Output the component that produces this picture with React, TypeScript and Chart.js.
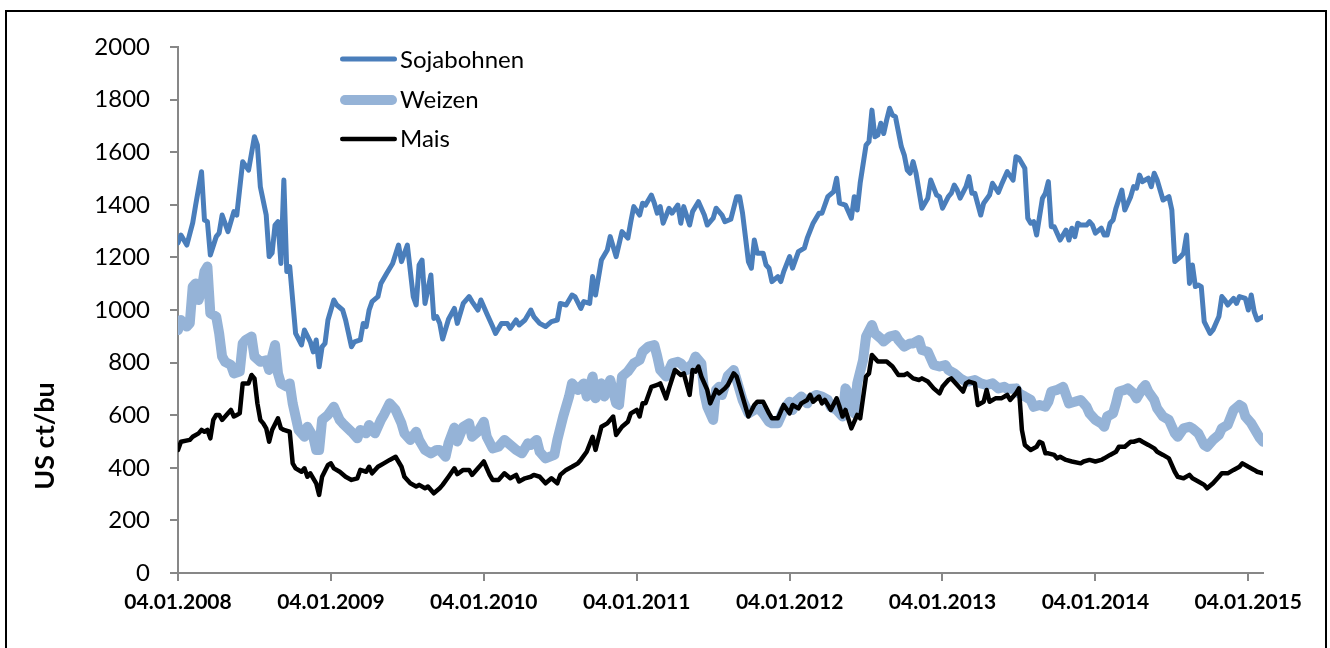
import React, { useEffect, useRef } from 'react';
import { Chart, registerables } from 'chart.js';

Chart.register(...registerables);

// x values are week numbers counted from 04.01.2008
const xTickWeeks = [0, 52, 104, 156, 208, 260, 312, 364];
const xTickLabels = ['04.01.2008', '04.01.2009', '04.01.2010', '04.01.2011', '04.01.2012', '04.01.2013', '04.01.2014', '04.01.2015'];
const yMin = 0;
const yMax = 2000;
const yStep = 200;
const yTitle = 'US ct/bu';
const seriesNames = ['Sojabohnen', 'Weizen', 'Mais'];

const sojabohnen: [number, number][] = [
  [0, 1255], [1, 1285], [3, 1247], [5, 1331], [6, 1399], [8, 1526], [9, 1342], [10, 1336], [11, 1209], [13, 1279],
  [14, 1293], [15, 1361], [17, 1298], [19, 1374], [20, 1361], [22, 1564], [24, 1532], [26, 1659], [27, 1627], [28, 1469],
  [30, 1361], [31, 1203], [32, 1217], [33, 1323], [34, 1336], [35, 1177], [36, 1494], [37, 1146], [38, 1165], [40, 911],
  [42, 867], [43, 924], [45, 879], [46, 841], [47, 886], [48, 784], [49, 860], [50, 873], [51, 962], [53, 1038],
  [54, 1019], [56, 1000], [57, 962], [59, 860], [60, 879], [62, 886], [63, 949], [64, 937], [65, 1000], [66, 1032],
  [68, 1051], [69, 1101], [71, 1140], [73, 1177], [75, 1247], [76, 1184], [78, 1247], [80, 1051], [81, 1019], [82, 1171],
  [83, 1190], [84, 1025], [86, 1133], [87, 968], [88, 975], [89, 950], [90, 890], [92, 965], [94, 1006], [95, 949],
  [97, 1025], [99, 1051], [100, 1032], [102, 1000], [103, 1038], [105, 987], [107, 937], [108, 911], [110, 949], [112, 949],
  [113, 930], [115, 962], [116, 943], [118, 962], [120, 1000], [121, 975], [123, 949], [125, 937], [127, 956], [129, 962],
  [130, 1025], [132, 1019], [134, 1057], [135, 1051], [137, 1006], [138, 1032], [140, 1025], [141, 1127], [142, 1057], [144, 1190],
  [146, 1228], [147, 1279], [149, 1203], [151, 1298], [153, 1273], [154, 1336], [155, 1393], [157, 1361], [158, 1406], [159, 1399],
  [161, 1437], [162, 1406], [163, 1368], [164, 1393], [165, 1330], [167, 1387], [168, 1368], [170, 1399], [171, 1330], [172, 1393],
  [174, 1323], [175, 1374], [177, 1412], [179, 1361], [180, 1323], [182, 1349], [183, 1387], [185, 1361], [186, 1336], [188, 1345],
  [190, 1431], [191, 1431], [192, 1368], [194, 1184], [195, 1159], [196, 1266], [197, 1216], [199, 1216], [200, 1171], [201, 1159],
  [202, 1108], [204, 1127], [205, 1108], [206, 1146], [208, 1203], [209, 1159], [211, 1222], [213, 1235], [214, 1273], [216, 1330],
  [218, 1368], [219, 1368], [221, 1431], [223, 1450], [224, 1501], [225, 1406], [227, 1399], [229, 1349], [230, 1431], [231, 1380],
  [232, 1482], [234, 1627], [235, 1640], [236, 1760], [237, 1659], [238, 1665], [239, 1710], [240, 1671], [241, 1722], [242, 1767],
  [243, 1741], [244, 1735], [246, 1621], [247, 1589], [248, 1532], [249, 1520], [250, 1564], [251, 1520], [253, 1387], [255, 1425],
  [256, 1494], [258, 1437], [259, 1431], [260, 1387], [262, 1431], [263, 1444], [264, 1475], [265, 1456], [266, 1425], [268, 1469],
  [269, 1507], [270, 1444], [271, 1444], [273, 1361], [274, 1406], [276, 1437], [277, 1482], [279, 1447], [280, 1475], [282, 1526],
  [284, 1494], [285, 1583], [286, 1577], [288, 1539], [289, 1349], [290, 1330], [291, 1336], [292, 1285], [294, 1425], [295, 1444],
  [296, 1488], [297, 1317], [298, 1317], [300, 1266], [301, 1285], [302, 1304], [303, 1266], [304, 1311], [305, 1279], [306, 1330],
  [307, 1323], [309, 1323], [310, 1336], [311, 1323], [312, 1292], [314, 1311], [315, 1285], [316, 1285], [317, 1330], [318, 1342],
  [319, 1387], [321, 1456], [322, 1380], [324, 1431], [325, 1469], [326, 1463], [327, 1513], [328, 1488], [330, 1501], [331, 1469],
  [332, 1520], [333, 1494], [334, 1456], [335, 1418], [337, 1431], [338, 1380], [339, 1184], [341, 1203], [342, 1216], [343, 1285],
  [344, 1101], [345, 1171], [346, 1089], [347, 1095], [348, 1089], [349, 956], [351, 911], [352, 924], [354, 975], [355, 1051],
  [356, 1038], [357, 1019], [359, 1044], [360, 1025], [361, 1051], [363, 1044], [364, 1000], [365, 1057], [366, 994], [367, 962],
  [369, 975],
];

const weizen: [number, number][] = [
  [0, 924], [1, 962], [3, 937], [4, 949], [5, 1089], [6, 1101], [7, 1038], [8, 1076], [9, 1146], [10, 1165],
  [11, 987], [13, 975], [14, 911], [15, 823], [16, 803], [18, 791], [19, 759], [21, 766], [22, 873], [23, 886],
  [25, 899], [26, 823], [28, 803], [30, 809], [31, 772], [32, 823], [33, 867], [34, 759], [35, 721], [37, 708],
  [38, 721], [39, 645], [41, 544], [43, 518], [44, 556], [46, 518], [47, 468], [48, 468], [49, 582], [51, 601],
  [53, 632], [55, 582], [56, 569], [59, 537], [61, 512], [62, 544], [64, 531], [65, 563], [67, 531], [69, 582],
  [70, 601], [72, 645], [74, 620], [76, 569], [77, 531], [79, 506], [81, 537], [82, 506], [84, 468], [86, 455],
  [88, 468], [89, 468], [91, 442], [92, 493], [94, 553], [95, 500], [97, 556], [99, 569], [100, 518], [102, 537],
  [104, 575], [105, 518], [107, 474], [109, 480], [111, 506], [113, 487], [115, 468], [117, 455], [119, 493], [120, 487],
  [122, 506], [123, 461], [125, 436], [128, 449], [129, 506], [131, 595], [133, 671], [134, 721], [136, 696], [138, 721],
  [139, 671], [141, 747], [142, 664], [144, 721], [145, 671], [147, 734], [149, 645], [150, 639], [151, 747], [153, 766],
  [155, 797], [157, 810], [158, 841], [160, 861], [162, 867], [163, 823], [164, 772], [166, 747], [168, 797], [170, 803],
  [171, 797], [173, 772], [175, 797], [176, 823], [178, 797], [179, 683], [180, 632], [182, 582], [183, 696], [184, 708],
  [185, 677], [187, 750], [189, 772], [190, 734], [192, 658], [194, 607], [196, 620], [197, 632], [199, 607], [201, 575],
  [202, 569], [204, 569], [206, 620], [208, 651], [209, 620], [210, 651], [212, 671], [214, 645], [215, 664], [217, 677],
  [219, 671], [221, 658], [222, 632], [224, 620], [226, 595], [227, 702], [228, 683], [230, 607], [231, 721], [233, 810],
  [234, 899], [236, 943], [237, 911], [239, 892], [240, 880], [242, 899], [244, 905], [245, 886], [247, 861], [249, 873],
  [250, 873], [252, 886], [253, 848], [255, 841], [257, 791], [259, 785], [261, 791], [262, 772], [264, 759], [266, 740],
  [268, 728], [269, 728], [271, 734], [273, 721], [275, 715], [277, 721], [279, 702], [281, 708], [282, 700], [285, 702],
  [286, 683], [288, 671], [290, 658], [291, 632], [293, 639], [295, 632], [296, 651], [297, 690], [299, 696], [301, 708],
  [302, 677], [303, 645], [305, 651], [307, 658], [309, 632], [310, 607], [312, 582], [314, 569], [315, 556], [316, 595],
  [318, 607], [319, 645], [320, 690], [322, 696], [323, 702], [325, 683], [326, 664], [328, 702], [329, 715], [330, 690],
  [332, 658], [333, 626], [335, 595], [337, 582], [339, 531], [340, 518], [342, 550], [344, 556], [345, 550], [347, 531],
  [349, 487], [350, 480], [352, 506], [354, 525], [355, 550], [357, 563], [359, 620], [361, 639], [362, 632], [363, 595],
  [365, 569], [367, 531], [368, 512], [369, 499],
];

const mais: [number, number][] = [
  [0, 468], [1, 499], [4, 506], [5, 518], [7, 531], [8, 544], [9, 537], [10, 544], [11, 512], [12, 582],
  [13, 601], [14, 601], [15, 582], [17, 607], [18, 620], [19, 595], [20, 601], [21, 607], [22, 721], [24, 721],
  [25, 753], [26, 740], [27, 645], [28, 582], [29, 569], [30, 550], [31, 499], [32, 544], [34, 588], [35, 550],
  [36, 544], [38, 537], [39, 417], [40, 398], [42, 385], [43, 398], [44, 366], [45, 379], [47, 341], [48, 297],
  [49, 366], [51, 411], [52, 417], [53, 398], [55, 385], [57, 366], [59, 354], [61, 360], [62, 392], [64, 385],
  [65, 404], [66, 379], [68, 404], [70, 417], [72, 430], [74, 442], [76, 404], [77, 366], [79, 341], [81, 329],
  [82, 335], [84, 322], [85, 329], [87, 303], [89, 322], [90, 335], [92, 366], [94, 398], [95, 376], [97, 392],
  [99, 392], [100, 373], [102, 398], [103, 411], [104, 424], [106, 373], [107, 354], [109, 354], [111, 379], [113, 360],
  [115, 373], [116, 348], [118, 360], [120, 366], [121, 373], [123, 366], [125, 341], [127, 360], [129, 341], [130, 373],
  [132, 392], [134, 404], [136, 417], [137, 430], [139, 461], [141, 518], [142, 468], [144, 556], [146, 569], [148, 595],
  [149, 525], [151, 556], [153, 575], [154, 607], [156, 620], [157, 595], [158, 645], [159, 645], [161, 708], [163, 715],
  [164, 721], [166, 664], [167, 702], [169, 772], [171, 753], [172, 759], [174, 677], [175, 772], [176, 766], [177, 785],
  [178, 747], [180, 696], [181, 645], [183, 696], [184, 683], [186, 702], [187, 715], [189, 759], [190, 747], [192, 671],
  [194, 595], [196, 639], [197, 651], [199, 651], [201, 607], [202, 588], [204, 588], [206, 639], [208, 607], [209, 639],
  [211, 626], [212, 645], [214, 658], [215, 677], [216, 651], [218, 671], [219, 645], [220, 658], [222, 620], [224, 664],
  [225, 632], [226, 595], [227, 620], [229, 550], [231, 601], [232, 588], [234, 747], [235, 759], [236, 829], [238, 804],
  [240, 804], [241, 804], [243, 785], [245, 753], [247, 753], [248, 759], [250, 740], [252, 734], [253, 740], [255, 728],
  [257, 702], [259, 683], [260, 708], [262, 734], [263, 740], [265, 715], [267, 690], [268, 721], [269, 728], [271, 721],
  [272, 639], [274, 651], [275, 696], [276, 651], [278, 664], [280, 664], [282, 677], [283, 658], [285, 683], [286, 702],
  [287, 544], [288, 487], [290, 468], [292, 480], [293, 499], [294, 493], [295, 455], [296, 455], [298, 449], [299, 436],
  [300, 442], [302, 430], [304, 424], [307, 417], [308, 424], [310, 430], [312, 424], [314, 430], [315, 436], [317, 449],
  [319, 461], [320, 480], [322, 480], [324, 499], [325, 499], [327, 506], [328, 499], [330, 487], [332, 474], [333, 461],
  [335, 449], [337, 436], [339, 385], [340, 366], [342, 360], [344, 373], [345, 360], [347, 348], [349, 335], [350, 322],
  [352, 341], [354, 366], [355, 379], [357, 379], [359, 392], [361, 404], [362, 417], [364, 404], [366, 392], [367, 385],
  [369, 379],
];

const FONT = 'Lato, "Open Sans", "Liberation Sans", sans-serif';
const AXIS_GREY = '#878787';

const toPoints = (arr: [number, number][]) => arr.map(([x, y]) => ({ x, y }));

const overlayPlugin = {
  id: 'overlay',
  afterDatasetsDraw(chart: any) {
    const ctx = chart.ctx as CanvasRenderingContext2D;
    // legend
    const legendX1 = 342;
    const legendX2 = 396;
    const legendTextX = 400;
    const legendLineY = [59, 100, 139];
    const legendBaseY = [68, 108, 147];
    chart.data.datasets.forEach((ds: any, i: number) => {
      ctx.save();
      ctx.strokeStyle = ds.borderColor;
      ctx.lineWidth = ds.borderWidth;
      ctx.lineCap = 'round';
      ctx.beginPath();
      const inset = ds.borderWidth / 2;
      ctx.moveTo(legendX1 + inset - 2, legendLineY[i]);
      ctx.lineTo(legendX2 - inset + 1, legendLineY[i]);
      ctx.stroke();
      ctx.fillStyle = '#000';
      ctx.font = `24px ${FONT}`;
      ctx.textAlign = 'left';
      ctx.textBaseline = 'alphabetic';
      ctx.fillText(ds.label, legendTextX, legendBaseY[i]);
      ctx.restore();
    });
    // y-axis title
    ctx.save();
    ctx.translate(45, 436);
    ctx.rotate(-Math.PI / 2);
    ctx.fillStyle = '#000';
    ctx.font = `bold 27px ${FONT}`;
    ctx.textAlign = 'center';
    ctx.textBaseline = 'middle';
    ctx.fillText(yTitle, 0, 0);
    ctx.restore();
  },
};

export default function App() {
  const canvasRef = useRef<HTMLCanvasElement>(null);

  useEffect(() => {
    const canvas = canvasRef.current;
    if (!canvas) return;
    const common = {
      pointRadius: 0,
      pointHoverRadius: 0,
      tension: 0,
      borderJoinStyle: 'round' as const,
      borderCapStyle: 'round' as const,
      fill: false,
    };
    const chart = new Chart(canvas, {
      type: 'line',
      data: {
        datasets: [
          { ...common, label: seriesNames[0], data: toPoints(sojabohnen), borderColor: '#4A7EBB', backgroundColor: '#4A7EBB', borderWidth: 5, order: 3 },
          { ...common, label: seriesNames[1], data: toPoints(weizen), borderColor: '#95B3D7', backgroundColor: '#95B3D7', borderWidth: 10, order: 2 },
          { ...common, label: seriesNames[2], data: toPoints(mais), borderColor: '#000000', backgroundColor: '#000000', borderWidth: 4.5, order: 1 },
        ],
      },
      options: {
        responsive: false,
        maintainAspectRatio: false,
        animation: false,
        layout: { padding: { left: 0, top: 47, right: 67, bottom: 0 } },
        plugins: { legend: { display: false }, tooltip: { enabled: false } },
        scales: {
          x: {
            type: 'linear',
            min: xTickWeeks[0],
            max: 369,
            afterBuildTicks: (scale: any) => {
              scale.ticks = xTickWeeks.map((v) => ({ value: v }));
            },
            afterFit: (scale: any) => {
              scale.height = 75;
            },
            ticks: {
              autoSkip: false,
              maxRotation: 0,
              minRotation: 0,
              padding: 9,
              color: '#000',
              font: { family: FONT, size: 21, weight: 'bold' },
              callback: (_v: any, i: number) => xTickLabels[i],
            },
            grid: { display: true, drawOnChartArea: false, drawTicks: true, tickLength: 8, color: AXIS_GREY, lineWidth: 2 },
            border: { display: true, color: AXIS_GREY, width: 2 },
          },
          y: {
            min: yMin,
            max: yMax,
            afterFit: (scale: any) => {
              scale.width = 178;
            },
            ticks: {
              stepSize: yStep,
              padding: 20,
              color: '#000',
              font: { family: FONT, size: 24 },
              callback: (v: any) => String(v),
            },
            grid: { display: true, drawOnChartArea: false, drawTicks: true, tickLength: 8, color: AXIS_GREY, lineWidth: 2 },
            border: { display: true, color: AXIS_GREY, width: 2 },
          },
        },
      } as any,
      plugins: [overlayPlugin],
    });
    return () => chart.destroy();
  }, []);

  return (
    <div style={{ position: 'fixed', left: 0, top: 0, width: 1330, height: 648, overflow: 'hidden', background: '#fff' }}>
      <canvas ref={canvasRef} width={1330} height={648} style={{ position: 'absolute', left: 0, top: 0, width: 1330, height: 648 }} />
      <div
        style={{
          position: 'absolute',
          left: 5,
          top: 10,
          width: 1322,
          height: 700,
          border: '2px solid #000',
          boxSizing: 'border-box',
          pointerEvents: 'none',
        }}
      />
    </div>
  );
}
